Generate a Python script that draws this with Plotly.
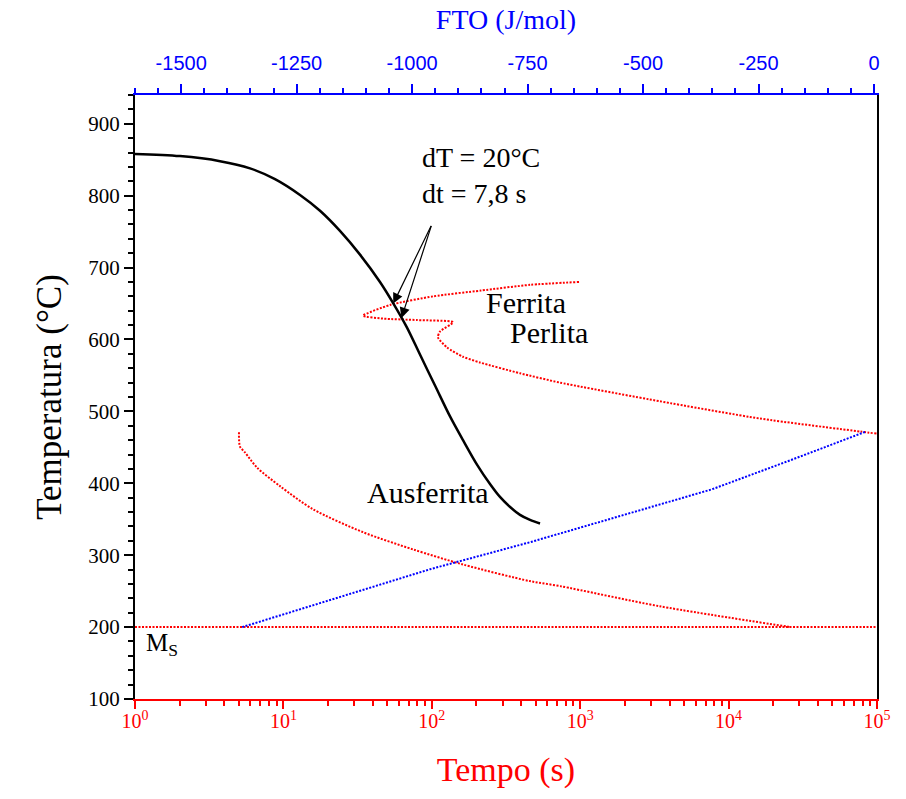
import plotly.graph_objects as go
import numpy as np

# ---- data ----
cool_t = [1, 2.01, 3.74, 5.96, 8.78, 12.94, 17.65, 24.06, 32.83, 44.76, 54.76, 68.07, 83.26,
          105.1, 132.7, 162.3, 201.6, 246.7, 288, 337, 393, 459, 536]
cool_T = [858, 855, 848, 838, 823, 801, 779, 751, 718, 680, 651, 616.5, 579,
          536, 493, 460, 426, 399, 381, 367, 356, 349, 344]

fp_t = [982, 459, 214, 102, 52.3, 34.4, 46.9, 79.4, 139, 113.5, 110, 126.5, 162, 211, 393, 731, 3452, 16280, 76800, 100000]
fp_T = [680, 676, 668, 660, 648, 633, 629, 627, 624, 611, 603, 589, 576, 568, 553, 540, 514, 490, 472, 469]

aus_t = [5.02, 5.10, 5.51, 6.63, 9.49, 15.8, 34.4, 74.8, 162.6, 457, 732, 3427, 26200]
aus_T = [471, 451, 443, 422, 396, 364, 332, 308, 287, 264, 257, 229, 200]

fto_G = [-1368, -961, -745, -550, -351, -182, -17]
fto_T = [200, 280.5, 318, 354, 391.6, 431.8, 472]

ms_t = [1, 1e5]
ms_T = [200, 200]

time_ticks = [1, 10, 100, 1000, 10000, 100000]
time_ticktext = ["10<sup>%d</sup>" % i for i in range(6)]
time_minor = [m * 10 ** e for e in range(5) for m in range(2, 10)]

fto_ticks = [-1500, -1250, -1000, -750, -500, -250, 0]
fto_ticktext = [str(v) for v in fto_ticks]

SERIF = "Liberation Serif, Times New Roman, serif"
SANS = "Liberation Sans, Arial, sans-serif"
DOTS = "2px,1.5px"

fig = go.Figure()
fig.add_trace(go.Scatter(x=ms_t, y=ms_T, mode="lines",
                         line=dict(color="red", width=2, dash=DOTS), hoverinfo="skip"))
fig.add_trace(go.Scatter(x=fp_t, y=fp_T, mode="lines",
                         line=dict(color="red", width=2, dash=DOTS, shape="spline", smoothing=0.6)))
fig.add_trace(go.Scatter(x=aus_t, y=aus_T, mode="lines",
                         line=dict(color="red", width=2, dash=DOTS, shape="spline", smoothing=0.8)))
fig.add_trace(go.Scatter(x=fto_G, y=fto_T, mode="lines", xaxis="x2",
                         line=dict(color="blue", width=2, dash=DOTS)))
fig.add_trace(go.Scatter(x=cool_t, y=cool_T, mode="lines",
                         line=dict(color="black", width=2.5, shape="spline", smoothing=0.9)))

# annotations
for tip_t, tip_T in [(55, 650), (62.5, 630)]:
    fig.add_annotation(x=np.log10(tip_t), y=tip_T, ax=2.0, ay=760, xref="x", yref="y",
                       axref="x", ayref="y", showarrow=True, arrowhead=2, arrowsize=1.7,
                       arrowwidth=1.2, arrowcolor="black", text="")
fig.add_annotation(x=1.92, y=828, xref="x", yref="y", showarrow=False,
                   text="dT = 20°C<br>dt = 7,8 s", xanchor="left", yanchor="middle", align="left",
                   font=dict(family=SERIF, size=28, color="black"))
fig.add_annotation(x=2.352, y=652, xref="x", yref="y", showarrow=False, text="Ferrita",
                   xanchor="left", yanchor="middle", font=dict(family=SERIF, size=30, color="black"))
fig.add_annotation(x=2.513, y=610, xref="x", yref="y", showarrow=False, text="Perlita",
                   xanchor="left", yanchor="middle", font=dict(family=SERIF, size=30, color="black"))
fig.add_annotation(x=1.55, y=387, xref="x", yref="y", showarrow=False, text="Ausferrita",
                   xanchor="left", yanchor="middle", font=dict(family=SERIF, size=30, color="black"))
fig.add_annotation(x=0.06, y=176, xref="x", yref="y", showarrow=False, text="M<sub>S</sub>",
                   xanchor="left", yanchor="middle", font=dict(family=SERIF, size=25, color="black"))

fig.update_layout(
    width=906, height=799,
    margin=dict(l=135, r=29, t=95, b=100),
    paper_bgcolor="white", plot_bgcolor="white",
    showlegend=False,
    xaxis=dict(type="log", range=[0, 5], tickvals=time_ticks, ticktext=time_ticktext,
               showline=True, linecolor="red", linewidth=2, ticks="outside", tickcolor="red",
               ticklen=8, tickwidth=2, showgrid=False, zeroline=False,
               minor=dict(tickvals=time_minor, ticks="outside", ticklen=5, tickcolor="red", tickwidth=2),
               tickfont=dict(family=SERIF, size=20, color="red"), ticklabelstandoff=-5,
               title=dict(text="Tempo (s)", font=dict(family=SERIF, size=34, color="red"), standoff=26)),
    xaxis2=dict(overlaying="x", side="top", anchor="y", range=[-1600, 6.5],
                tickvals=fto_ticks, ticktext=fto_ticktext,
                showline=True, linecolor="blue", linewidth=2, ticks="outside", tickcolor="blue",
                ticklen=9, tickwidth=2, showgrid=False, zeroline=False,
                minor=dict(dtick=50, ticks="outside", ticklen=5, tickcolor="blue", tickwidth=2),
                tickfont=dict(family=SANS, size=20, color="blue"), ticklabelstandoff=6,
                title=dict(text="FTO (J/mol)", font=dict(family=SERIF, size=28, color="blue"), standoff=14)),
    yaxis=dict(range=[100, 940], dtick=100, tick0=100,
               showline=True, linecolor="black", linewidth=2, mirror=True,
               ticks="outside", tickcolor="black", ticklen=9, tickwidth=2,
               showgrid=False, zeroline=False,
               minor=dict(dtick=20, ticks="outside", ticklen=5, tickcolor="black", tickwidth=2),
               tickfont=dict(family=SERIF, size=21, color="black"),
               title=dict(text="Temperatura (°C)", font=dict(family=SERIF, size=35, color="black"), standoff=16)),
)

fig.write_html("out.html")
